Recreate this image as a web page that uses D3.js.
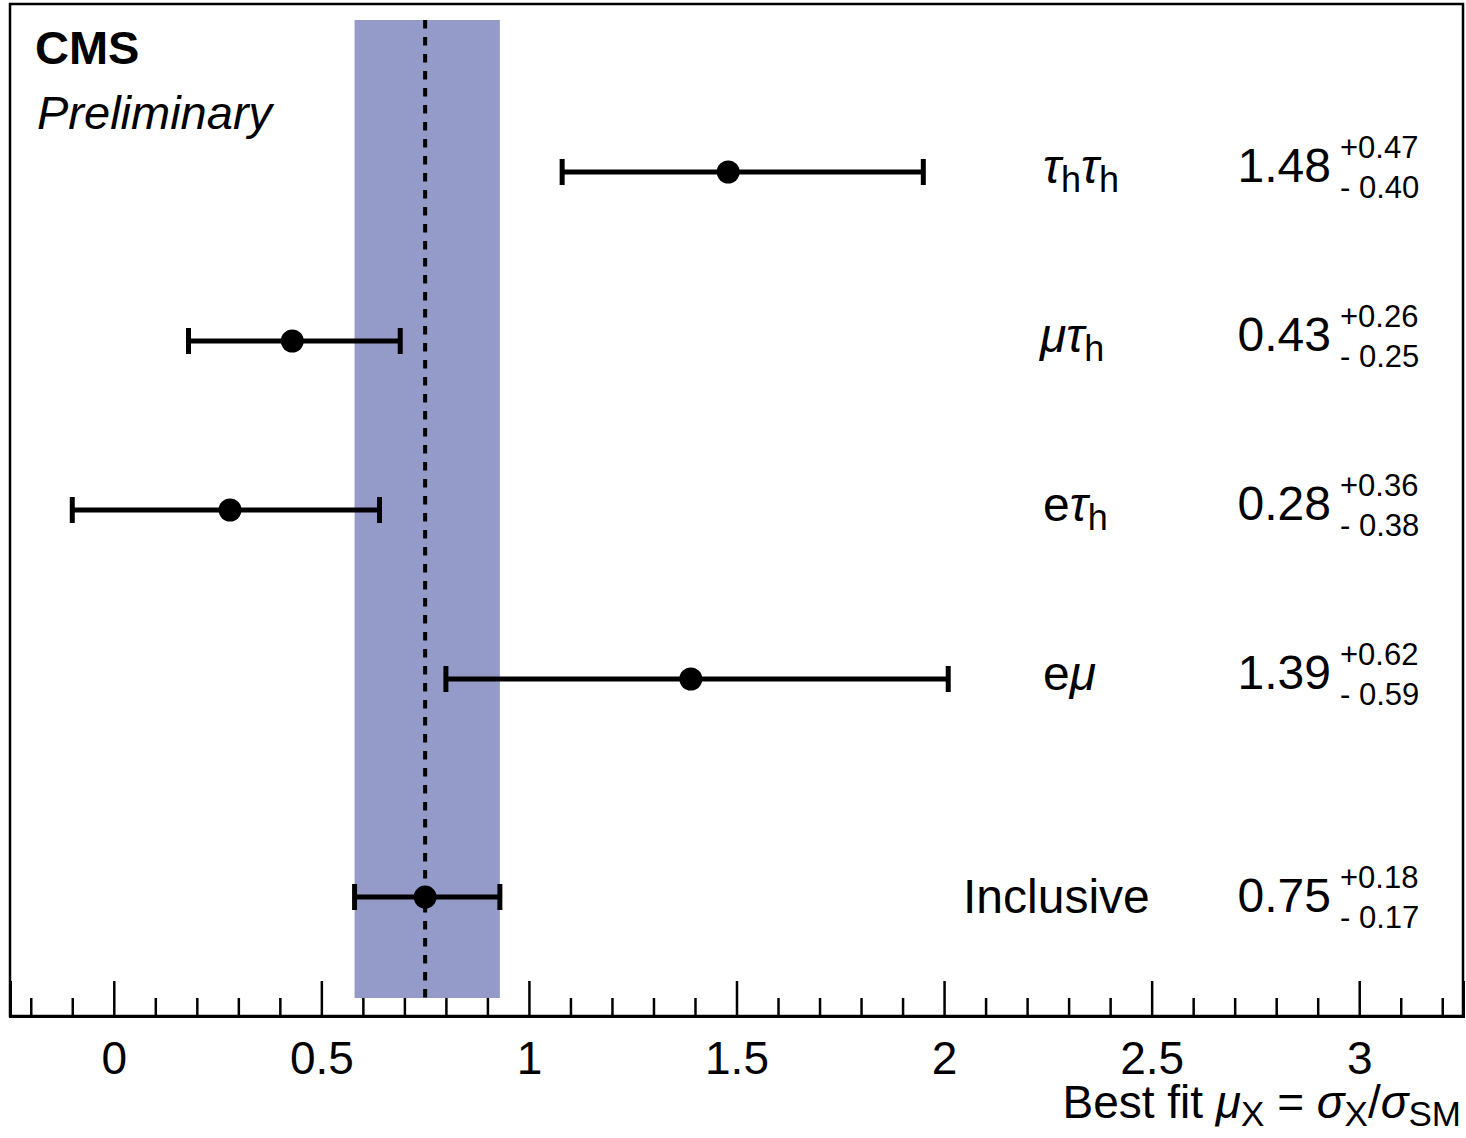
<!DOCTYPE html>
<html>
<head>
<meta charset="utf-8">
<script src="https://cdn.jsdelivr.net/npm/d3@7"></script>
<style>
  body { margin: 0; background: #fff; }
  text { font-family: "Liberation Sans", Arial, sans-serif; fill: #000; }
</style>
</head>
<body>
<script>
const width = 1466;
const height = 1138;

// channels, top to bottom
const channels = ["tautau", "mutau", "etau", "emu", "inclusive"];
const bestFit = [1.48, 0.43, 0.28, 1.39, 0.75];
const errUp = [0.47, 0.26, 0.36, 0.62, 0.18];
const errDown = [0.40, 0.25, 0.38, 0.59, 0.17];

const majorTicks = [0, 0.5, 1, 1.5, 2, 2.5, 3];
const minorTicks = [-0.2, -0.1, 0.1, 0.2, 0.3, 0.4, 0.6, 0.7, 0.8, 0.9, 1.1, 1.2, 1.3, 1.4,
  1.6, 1.7, 1.8, 1.9, 2.1, 2.2, 2.3, 2.4, 2.6, 2.7, 2.8, 2.9, 3.1, 3.2];

const frame = { left: 10, right: 1463, top: 4, bottom: 1016 };

const svg = d3.select("body").append("svg")
  .attr("width", width)
  .attr("height", height);

const x = d3.scaleLinear().domain([-0.25, 3.25]).range([frame.left, frame.right]);

// inclusive row is pushed a bit further down than the per-channel rows
const slot = (i) => (i < 4 ? i : i + 0.29);
const y = d3.scaleLinear().domain([0, 1]).range([172, 341]);

// inclusive band
const incl = channels.indexOf("inclusive");
svg.append("rect")
  .attr("x", x(bestFit[incl] - errDown[incl]))
  .attr("width", x(bestFit[incl] + errUp[incl]) - x(bestFit[incl] - errDown[incl]))
  .attr("y", 20)
  .attr("height", 978)
  .attr("fill", "#949bc8");

svg.append("line")
  .attr("x1", x(bestFit[incl])).attr("x2", x(bestFit[incl]))
  .attr("y1", 20).attr("y2", 998)
  .attr("stroke", "#000")
  .attr("stroke-width", 4)
  .attr("stroke-dasharray", "8.5,8.5");

// frame
svg.append("rect")
  .attr("x", frame.left).attr("y", frame.top)
  .attr("width", frame.right - frame.left)
  .attr("height", frame.bottom - frame.top)
  .attr("fill", "none")
  .attr("stroke", "#000")
  .attr("stroke-width", 2.5);

// axes
const xAxis = d3.axisBottom(x)
  .tickValues(majorTicks)
  .tickSize(-35)
  .tickPadding(25)
  .tickFormat(d3.format("~g"));

const gx = svg.append("g")
  .attr("transform", `translate(0,${frame.bottom})`)
  .call(xAxis);
gx.select(".domain").attr("stroke-width", 3);
gx.selectAll(".tick line").attr("stroke-width", 2.5);
gx.selectAll(".tick text")
  .style("font-family", "'Liberation Sans', Arial, sans-serif")
  .style("font-size", "46px");

const gMinor = svg.append("g")
  .attr("transform", `translate(0,${frame.bottom})`)
  .call(d3.axisBottom(x).tickValues(minorTicks).tickSize(-18).tickFormat(""));
gMinor.select(".domain").remove();
gMinor.selectAll(".tick line").attr("stroke-width", 2.5);

// error bars
const rows = svg.append("g").selectAll("g")
  .data(channels)
  .join("g")
  .attr("transform", (d, i) => `translate(0,${y(slot(i))})`);

rows.append("line")
  .attr("x1", (d, i) => x(bestFit[i] - errDown[i]))
  .attr("x2", (d, i) => x(bestFit[i] + errUp[i]))
  .attr("stroke", "#000")
  .attr("stroke-width", 5);

rows.append("line")
  .attr("x1", (d, i) => x(bestFit[i] - errDown[i]))
  .attr("x2", (d, i) => x(bestFit[i] - errDown[i]))
  .attr("y1", -13).attr("y2", 13)
  .attr("stroke", "#000").attr("stroke-width", 5);

rows.append("line")
  .attr("x1", (d, i) => x(bestFit[i] + errUp[i]))
  .attr("x2", (d, i) => x(bestFit[i] + errUp[i]))
  .attr("y1", -13).attr("y2", 13)
  .attr("stroke", "#000").attr("stroke-width", 5);

rows.append("circle")
  .attr("cx", (d, i) => x(bestFit[i]))
  .attr("r", 11.5)
  .attr("fill", "#000");

// text block of each row (inclusive text sits slightly lower)
const txt = rows.append("g")
  .attr("transform", d => `translate(0,${d === "inclusive" ? 5 : 0})`);

// label pieces: [text, italic, subscript]
const labelParts = {
  tautau: [["τ", true, false], ["h", false, true], ["τ", true, false], ["h", false, true]],
  mutau: [["μ", true, false], ["τ", true, false], ["h", false, true]],
  etau: [["e", false, false], ["τ", true, false], ["h", false, true]],
  emu: [["e", false, false], ["μ", true, false]],
  inclusive: [["Inclusive", false, false]]
};
const labelX = { tautau: 1043, mutau: 1040, etau: 1043, emu: 1043, inclusive: 963 };

function writeParts(sel, parts, subShift, subSize) {
  let prev = 0;
  parts.forEach(([s, it, sub]) => {
    const shift = sub ? subShift : 0;
    const ts = sel.append("tspan").attr("dy", shift - prev).text(s);
    if (it) ts.style("font-style", "italic");
    if (sub) ts.style("font-size", subSize);
    prev = shift;
  });
}

txt.append("text")
  .attr("x", d => labelX[d])
  .attr("y", 11)
  .style("font-size", "48px")
  .each(function (d) { writeParts(d3.select(this), labelParts[d], 9, "36px"); });

// values
txt.append("text")
  .attr("x", 1331)
  .attr("y", 10)
  .attr("text-anchor", "end")
  .style("font-size", "48px")
  .text((d, i) => bestFit[i].toFixed(2));

txt.append("text")
  .attr("x", 1340)
  .attr("y", -14)
  .style("font-size", "31px")
  .text((d, i) => "+" + errUp[i].toFixed(2));

txt.append("text")
  .attr("x", 1340)
  .attr("y", 26)
  .style("font-size", "31px")
  .text((d, i) => "- " + errDown[i].toFixed(2));

// CMS labels
svg.append("text")
  .attr("x", 35).attr("y", 64)
  .style("font-size", "47px")
  .style("font-weight", "bold")
  .text("CMS");

svg.append("text")
  .attr("x", 37).attr("y", 129)
  .style("font-size", "47px")
  .style("font-style", "italic")
  .text("Preliminary");

// axis title
const title = svg.append("text")
  .attr("x", 1461).attr("y", 1118)
  .attr("text-anchor", "end")
  .style("font-size", "46px");
writeParts(title, [
  ["Best fit ", false, false], ["μ", true, false], ["X", false, true],
  [" = ", false, false], ["σ", true, false], ["X", false, true],
  ["/", false, false], ["σ", true, false], ["SM", false, true]
], 8, "35px");
</script>
</body>
</html>
